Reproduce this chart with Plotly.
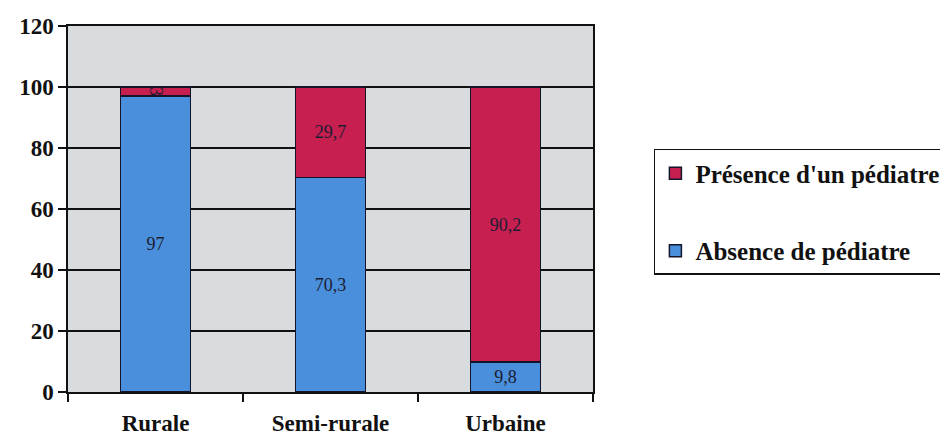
import plotly.graph_objects as go

categories = ["Rurale", "Semi-rurale", "Urbaine"]
absence = [97, 70.3, 9.8]
presence = [3, 29.7, 90.2]
y_ticks = [0, 20, 40, 60, 80, 100, 120]

def fmt(v):
    return str(v).replace(".", ",")

SERIF = "Liberation Serif"

fig = go.Figure()
fig.add_trace(go.Bar(
    x=categories, y=absence, name="Absence de pédiatre",
    marker=dict(color="#4a8fdc", line=dict(color="#15152a", width=1.5)),
    text=[fmt(v) for v in absence], textposition="inside",
    insidetextanchor="middle", constraintext="none",
    textfont=dict(family=SERIF, size=18, color="#1c1c30"),
    legendgroup="a", legendrank=2, hoverinfo="skip",
))
fig.add_trace(go.Bar(
    x=categories, y=presence, name="Présence d'un pédiatre",
    marker=dict(color="#c61f50", line=dict(color="#15152a", width=1.5)),
    text=[fmt(v) for v in presence], textposition="inside",
    insidetextanchor="middle", constraintext="none",
    textfont=dict(family=SERIF, size=18, color="#1c1c30"),
    legendgroup="b", legendrank=1, hoverinfo="skip",
))

fig.update_layout(
    width=940, height=431,
    barmode="stack", bargap=0.6,
    paper_bgcolor="white", plot_bgcolor="#d8dcdf",
    margin=dict(l=60, r=355, t=18, b=47, autoexpand=False),
    font=dict(family=SERIF, color="#111111"),
    legend=dict(
        x=1.116, y=0.664, xanchor="left", yanchor="top",
        traceorder="grouped", tracegroupgap=42,
        bgcolor="white", bordercolor="#111111", borderwidth=1.5,
        font=dict(family=SERIF, size=25, color="#111111", weight="bold"),
        itemwidth=30,
    ),
    xaxis=dict(
        automargin=False,
        showline=True, linecolor="#111111", linewidth=1.5, mirror=True,
        ticks="outside", tickson="boundaries", ticklen=8, tickcolor="#111111",
        tickwidth=1.5, showgrid=False, ticklabelstandoff=10,
        tickfont=dict(family=SERIF, size=23, color="#111111", weight="bold"),
    ),
    yaxis=dict(
        automargin=False,
        range=[0, 120], tickvals=y_ticks,
        showline=True, linecolor="#111111", linewidth=1.5, mirror=True,
        ticks="outside", ticklen=8, tickcolor="#111111", tickwidth=1.5,
        showgrid=True, gridcolor="#111111", gridwidth=1.5, zeroline=False,
        tickfont=dict(family=SERIF, size=23, color="#111111", weight="bold"),
    ),
)

fig.write_html("out.html")
